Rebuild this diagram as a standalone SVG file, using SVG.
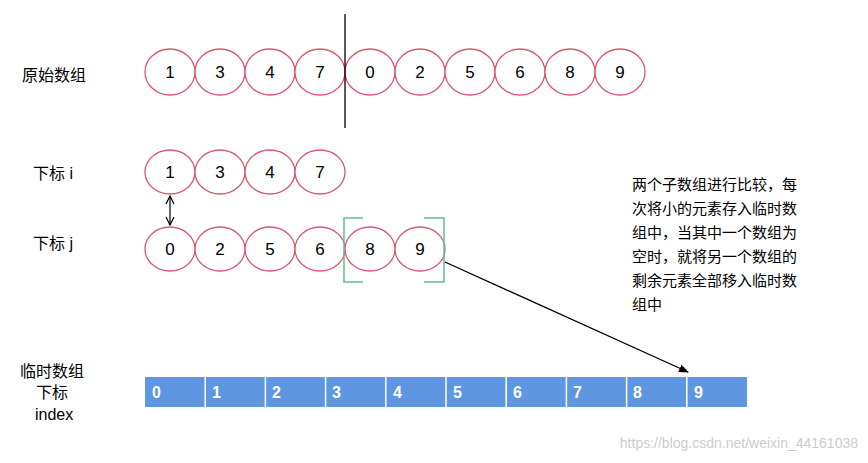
<svg xmlns="http://www.w3.org/2000/svg" width="868" height="463" viewBox="0 0 868 463">
<style>
.c{fill:#fff;stroke:#d9596f;stroke-width:1.3}
.t{font-family:"Liberation Sans",sans-serif;font-size:17px;fill:#000;text-anchor:middle}
.l{font-family:"Liberation Sans","Noto Sans CJK SC",sans-serif;font-size:16px;fill:#000}
.cell{fill:#5e96e2}
.ct{font-family:"Liberation Sans",sans-serif;font-size:16px;font-weight:bold;fill:#fff}
</style>
<defs>
<marker id="a" markerWidth="10" markerHeight="10" refX="9" refY="5" orient="auto-start-reverse" markerUnits="userSpaceOnUse"><path d="M1,1 L9,5 L1,9" fill="none" stroke="#000" stroke-width="1.2"/></marker>
<marker id="f" markerWidth="10" markerHeight="10" refX="9" refY="5" orient="auto" markerUnits="userSpaceOnUse"><path d="M0,1 L10,5 L0,9 Z" fill="#000"/></marker>
</defs>
<text class="l" x="22" y="81">原始数组</text>
<text class="l" x="33" y="179">下标 i</text>
<text class="l" x="33" y="249">下标 j</text>
<text class="l" x="20" y="377">临时数组</text>
<text class="l" x="36" y="398">下标</text>
<text class="l" x="35" y="420">index</text>
<g id="row1">
<ellipse class="c" cx="170" cy="72" rx="25" ry="23"/><text class="t" x="170" y="78">1</text>
<ellipse class="c" cx="220" cy="72" rx="25" ry="23"/><text class="t" x="220" y="78">3</text>
<ellipse class="c" cx="270" cy="72" rx="25" ry="23"/><text class="t" x="270" y="78">4</text>
<ellipse class="c" cx="320" cy="72" rx="25" ry="23"/><text class="t" x="320" y="78">7</text>
<ellipse class="c" cx="370" cy="72" rx="25" ry="23"/><text class="t" x="370" y="78">0</text>
<ellipse class="c" cx="420" cy="72" rx="25" ry="23"/><text class="t" x="420" y="78">2</text>
<ellipse class="c" cx="470" cy="72" rx="25" ry="23"/><text class="t" x="470" y="78">5</text>
<ellipse class="c" cx="520" cy="72" rx="25" ry="23"/><text class="t" x="520" y="78">6</text>
<ellipse class="c" cx="570" cy="72" rx="25" ry="23"/><text class="t" x="570" y="78">8</text>
<ellipse class="c" cx="620" cy="72" rx="25" ry="23"/><text class="t" x="620" y="78">9</text>
</g>
<g id="rowi">
<ellipse class="c" cx="170" cy="172" rx="25" ry="22"/><text class="t" x="170" y="178">1</text>
<ellipse class="c" cx="220" cy="172" rx="25" ry="22"/><text class="t" x="220" y="178">3</text>
<ellipse class="c" cx="270" cy="172" rx="25" ry="22"/><text class="t" x="270" y="178">4</text>
<ellipse class="c" cx="320" cy="172" rx="25" ry="22"/><text class="t" x="320" y="178">7</text>
</g>
<g id="rowj">
<ellipse class="c" cx="170" cy="249" rx="25" ry="22"/><text class="t" x="170" y="255">0</text>
<ellipse class="c" cx="220" cy="249" rx="25" ry="22"/><text class="t" x="220" y="255">2</text>
<ellipse class="c" cx="270" cy="249" rx="25" ry="22"/><text class="t" x="270" y="255">5</text>
<ellipse class="c" cx="320" cy="249" rx="25" ry="22"/><text class="t" x="320" y="255">6</text>
<ellipse class="c" cx="370" cy="249" rx="25" ry="22"/><text class="t" x="370" y="255">8</text>
<ellipse class="c" cx="420" cy="249" rx="25" ry="22"/><text class="t" x="420" y="255">9</text>
</g>
<g id="bracket" fill="none" stroke="#5dbf96" stroke-width="1.5">
<path d="M363,218 H344 V282 H363"/>
<path d="M424,218 H444 V282 H424"/>
</g>
<g id="temp">
<rect class="cell" x="145" y="377" width="602" height="30"/>
<g stroke="#fff" stroke-width="1.5">
<line x1="205.2" y1="377" x2="205.2" y2="407"/><line x1="265.4" y1="377" x2="265.4" y2="407"/><line x1="325.6" y1="377" x2="325.6" y2="407"/><line x1="385.8" y1="377" x2="385.8" y2="407"/><line x1="446" y1="377" x2="446" y2="407"/><line x1="506.2" y1="377" x2="506.2" y2="407"/><line x1="566.4" y1="377" x2="566.4" y2="407"/><line x1="626.6" y1="377" x2="626.6" y2="407"/><line x1="686.8" y1="377" x2="686.8" y2="407"/>
</g>
<text class="ct" x="152" y="398">0</text><text class="ct" x="212" y="398">1</text><text class="ct" x="272" y="398">2</text><text class="ct" x="332" y="398">3</text><text class="ct" x="393" y="398">4</text><text class="ct" x="453" y="398">5</text><text class="ct" x="513" y="398">6</text><text class="ct" x="573" y="398">7</text><text class="ct" x="633" y="398">8</text><text class="ct" x="694" y="398">9</text>
</g>
<g id="note" class="l" font-size="15">
<text class="l" x="632" y="190" style="font-size:15px">两个子数组进行比较，每</text>
<text class="l" x="632" y="214" style="font-size:15px">次将小的元素存入临时数</text>
<text class="l" x="632" y="238" style="font-size:15px">组中，当其中一个数组为</text>
<text class="l" x="632" y="262" style="font-size:15px">空时，就将另一个数组的</text>
<text class="l" x="632" y="286" style="font-size:15px">剩余元素全部移入临时数</text>
<text class="l" x="632" y="310" style="font-size:15px">组中</text>
</g>
<g id="connectors" stroke="#000" fill="none">
<line x1="345" y1="14" x2="345" y2="128" stroke-width="1.3"/>
<line x1="170" y1="196" x2="170" y2="225" stroke-width="1.2" marker-start="url(#a)" marker-end="url(#a)"/>
<line x1="445" y1="262" x2="688" y2="372" stroke-width="1.3" marker-end="url(#f)"/>
</g>
<text x="858" y="448" text-anchor="end" font-family="Liberation Sans,sans-serif" font-size="14" fill="#ccc">https://blog.csdn.net/weixin_44161038</text>
</svg>
